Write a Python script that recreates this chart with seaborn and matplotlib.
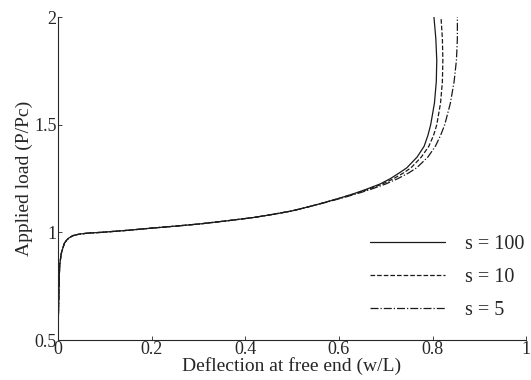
import numpy as np
import pandas as pd
import matplotlib
matplotlib.use("Agg")
import matplotlib.pyplot as plt
import seaborn as sns

# applied load P/Pc (shared by all three curves)
load = [0.5, 0.6, 0.7, 0.8, 0.85, 0.9, 0.93, 0.95, 0.965, 0.975, 0.985,
        0.992, 0.997, 1.0, 1.005, 1.01, 1.02, 1.03, 1.04, 1.055, 1.07, 1.085,
        1.1, 1.12, 1.14, 1.16, 1.18, 1.2, 1.225, 1.25, 1.275, 1.3, 1.35, 1.4,
        1.45, 1.5, 1.6, 1.7, 1.8, 1.9, 2.0]

# deflection at free end w/L
defl_s100 = [0.0, 0.001, 0.002, 0.003, 0.004, 0.007, 0.011, 0.014, 0.019,
             0.024, 0.032, 0.045, 0.065, 0.09, 0.12, 0.15, 0.2, 0.255, 0.305,
             0.365, 0.42, 0.462, 0.5, 0.537, 0.571, 0.603, 0.632, 0.658, 0.688,
             0.71, 0.728, 0.745, 0.767, 0.782, 0.79, 0.796, 0.804, 0.808,
             0.809, 0.807, 0.803]
defl_s10 = [0.0, 0.001, 0.002, 0.003, 0.004, 0.007, 0.011, 0.014, 0.019,
            0.024, 0.032, 0.045, 0.065, 0.09, 0.12, 0.15, 0.2, 0.255, 0.305,
            0.365, 0.42, 0.462, 0.5, 0.537, 0.571, 0.603, 0.634, 0.662, 0.693,
            0.717, 0.737, 0.754, 0.776, 0.792, 0.802, 0.809, 0.817, 0.821,
            0.822, 0.821, 0.818]
defl_s5 = [0.0, 0.001, 0.002, 0.003, 0.004, 0.007, 0.011, 0.014, 0.019,
           0.024, 0.032, 0.045, 0.065, 0.09, 0.12, 0.15, 0.2, 0.255, 0.305,
           0.365, 0.42, 0.462, 0.5, 0.537, 0.573, 0.607, 0.639, 0.668, 0.7,
           0.726, 0.748, 0.766, 0.79, 0.806, 0.817, 0.826, 0.838, 0.846,
           0.851, 0.853, 0.853]

labels = ["s = 100", "s = 10", "s = 5"]
styles = ["-", "--", "-."]

sns.set_style("ticks")
plt.rcParams["font.family"] = ["Liberation Serif", "DejaVu Serif"]

fig = plt.figure(figsize=(5.31, 3.80), dpi=100)
ax = fig.add_axes([0.109, 0.105, 0.882, 0.85])

for defl, lab, ls in zip([defl_s100, defl_s10, defl_s5], labels, styles):
    df = pd.DataFrame({"x": defl, "y": load})
    sns.lineplot(data=df, x="x", y="y", sort=False, estimator=None, ax=ax,
                 color="#1a1a1a", linewidth=0.9, linestyle=ls, label=lab)

ax.set_xlim(0, 1)
ax.set_ylim(0.5, 2)
ax.set_xticks([0, 0.2, 0.4, 0.6, 0.8, 1])
ax.set_xticklabels(["0", "0.2", "0.4", "0.6", "0.8", "1"])
ax.set_yticks([0.5, 1, 1.5, 2])
ax.set_yticklabels(["0.5", "1", "1.5", "2"])
ax.tick_params(direction="in", length=3, width=0.6, labelsize=13, pad=1)
ax.set_xlabel("Deflection at free end (w/L)", fontsize=14, labelpad=-1)
ax.set_ylabel("Applied load (P/Pc)", fontsize=14, labelpad=1)
sns.despine(ax=ax)
for sp in ["left", "bottom"]:
    ax.spines[sp].set_linewidth(0.8)

ax.legend(loc="lower right", bbox_to_anchor=(1.035, 0.005), frameon=False,
          fontsize=14.5, handlelength=3.7, handletextpad=1.0, labelspacing=0.7)

fig.savefig("out.png", dpi=100)
